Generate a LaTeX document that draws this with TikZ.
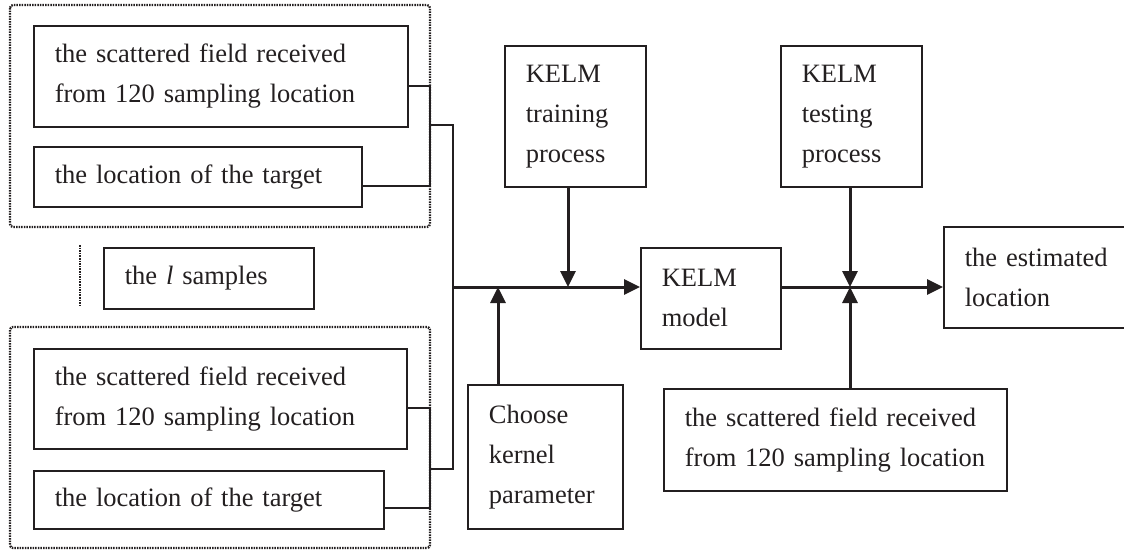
\documentclass[tikz,border=0pt]{standalone}
\usepackage{fontspec}
\setmainfont{Liberation Serif}
\usetikzlibrary{arrows.meta,calc}
\definecolor{ink}{RGB}{35,31,32}
\begin{document}
\begin{tikzpicture}[x=1pt,y=-1pt,
  every node/.style={font=\fontsize{26.5}{40}\selectfont, text=ink},
  blk/.style={draw=ink, line width=1.7pt, anchor=north west, align=left, inner xsep=21pt, inner ysep=0pt},
  grp/.style={draw=ink, line width=2.3pt, dash pattern=on 1.5pt off 1.1pt},
  wire/.style={draw=ink, line width=1.5pt},
  flow/.style={draw=ink, line width=3pt, -{Triangle[length=16pt,width=15pt]}},
]
\useasboundingbox (0,0) rectangle (1124,552);
% groups
\draw[grp, rounded corners=3pt] (10,5) rectangle (430,227);
\draw[grp, rounded corners=3pt] (10,327) rectangle (430,548);
\draw[grp] (80,245) -- (80,306);
% left boxes
\node[blk, text width=332pt, minimum height=101pt] (b1) at (33,25) {the scattered field received\\from 120 sampling location};
\node[blk, text width=286pt, minimum height=60pt] (b2) at (33,146) {the location of the target};
\node[blk, text width=168pt, minimum height=61pt] (ls) at (103,247) {the \textit{l} samples};
\node[blk, text width=331pt, minimum height=100pt] (b3) at (33,348) {the scattered field received\\from 120 sampling location};
\node[blk, text width=308pt, minimum height=58pt] (b4) at (33,470) {the location of the target};
% middle and right boxes
\node[blk, text width=99pt, minimum height=141pt] (train) at (504,45) {KELM\\training\\process};
\node[blk, text width=98pt, minimum height=101pt] (model) at (640,247) {KELM\\model};
\node[blk, text width=113pt, minimum height=144pt] (kern) at (467,384) {Choose\\kernel\\parameter};
\node[blk, text width=99pt, minimum height=141pt] (test) at (780,45) {KELM\\testing\\process};
\node[blk, text width=301pt, minimum height=102pt] (sc) at (663,388) {the scattered field received\\from 120 sampling location};
\node[blk, text width=170pt, minimum height=101pt] (est) at (943,226) {the estimated\\location};
% junction coordinates
\coordinate (ja) at (430,125);
\coordinate (jb) at (430,469);
\coordinate (j1) at (453,287);
\coordinate (jt) at (568,287);
\coordinate (jk) at (498,287);
\coordinate (jx) at (850,287);
% thin wires on the left
\draw[wire] (b1.east |- 0,86) -- (430,86) -- (430,186) -- (b2.east |- 0,186);
\draw[wire] (b3.east |- 0,408) -- (430,408) -- (430,508) -- (b4.east |- 0,508);
\draw[wire] (ja) -- (453,125) -- (453,469) -- (jb);
% flow arrows
\draw[flow] (j1) -- (j1 -| model.west);
\draw[flow] (train.south -| jt) -- (jt);
\draw[flow] (kern.north -| jk) -- (jk);
\draw[flow] (model.east |- jx) -- (jx -| est.west);
\draw[flow] (test.south -| jx) -- (jx);
\draw[flow] (sc.north -| jx) -- (jx);
\end{tikzpicture}
\end{document}
